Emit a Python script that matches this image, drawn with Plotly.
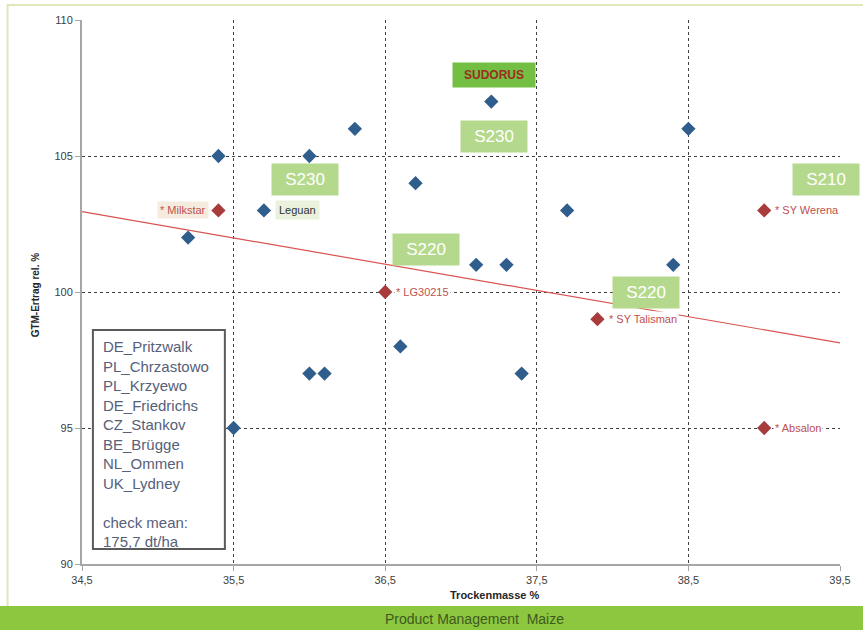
import numpy as np
import plotly.graph_objects as go

# ---- data ----
hybrid_x = [35.4, 35.2, 35.7, 36.0, 36.3, 36.7, 37.2, 37.1, 37.3, 37.7, 38.4, 38.5,
            36.6, 36.0, 36.1, 37.4, 35.5]
hybrid_y = [105, 102, 103, 105, 106, 104, 107, 101, 101, 103, 101, 106,
            98, 97, 97, 97, 95]

check_names = ["* Milkstar", "* LG30215", "* SY Talisman", "* SY Werena", "* Absalon"]
check_x = [35.4, 36.5, 37.9, 39.0, 39.0]
check_y = [103, 100, 99, 103, 95]

x_ticks = [34.5, 35.5, 36.5, 37.5, 38.5, 39.5]
y_ticks = [90, 95, 100, 105, 110]

locations = ["DE_Pritzwalk", "PL_Chrzastowo", "PL_Krzyewo", "DE_Friedrichs",
             "CZ_Stankov", "BE_Brügge", "NL_Ommen", "UK_Lydney"]
check_mean = "check mean:<br>175,7 dt/ha"

# ---- trendline (linear fit of checks) ----
slope, icpt = np.polyfit(check_x, check_y, 1)
trend_x = [x_ticks[0], x_ticks[-1]]
trend_y = [slope * v + icpt for v in trend_x]

W, H = 863, 630
L, R, T, B = 82, 17, 20, 66
pw, ph = W - L - R, H - T - B

def px(xp):
    return (xp - L) / pw

def py(yp):
    return (H - B - yp) / ph

NARROW = "Liberation Sans Narrow, Arial Narrow, sans-serif"
SANS = "Liberation Sans, Arial, sans-serif"

fig = go.Figure()
fig.add_trace(go.Scatter(x=trend_x, y=trend_y, mode="lines",
                         line=dict(color="#d9534f", width=1.2), hoverinfo="skip"))
fig.add_trace(go.Scatter(x=hybrid_x, y=hybrid_y, mode="markers",
                         marker=dict(symbol="diamond", size=11, color="#2f5d8c")))
fig.add_trace(go.Scatter(x=check_x, y=check_y, mode="markers",
                         marker=dict(symbol="diamond", size=11, color="#a83c3c")))

ann = []
# green maturity boxes
for txt, xx, yy in [("S230", 37.22, 105.7), ("S230", 35.97, 104.12),
                    ("S220", 36.77, 101.58), ("S220", 38.22, 100.0),
                    ("S210", 39.41, 104.12)]:
    ann.append(dict(x=xx, y=yy, xref="x", yref="y", text=txt, showarrow=False,
                    font=dict(family=SANS, size=17, color="white"),
                    bgcolor="#b5d98c", width=62, height=27, borderpad=2))
ann.append(dict(x=37.216, y=107.98, xref="x", yref="y", text="<b>SUDORUS</b>",
                showarrow=False, font=dict(family=SANS, size=12, color="#9b2d1f"),
                bgcolor="#72bf44", width=78, height=20, borderpad=2))
ann.append(dict(x=35.77, y=103.0, xref="x", yref="y", text="Leguan", showarrow=False,
                xanchor="left", font=dict(family=SANS, size=11, color="#333333"),
                bgcolor="#eaf1dc", borderpad=3))
# check labels
for name, xx, yy in zip(check_names, check_x, check_y):
    if name == "* Milkstar":
        ann.append(dict(x=xx - 0.06, y=yy, xref="x", yref="y", text=name, showarrow=False,
                        xanchor="right", font=dict(family=SANS, size=11, color="#c0504d"),
                        bgcolor="#f5ebdf", borderpad=2))
    else:
        ann.append(dict(x=xx + 0.06, y=yy, xref="x", yref="y", text=name, showarrow=False,
                        xanchor="left", font=dict(family=SANS, size=11, color="#c0504d"),
                        bgcolor="white", borderpad=1))
# legend-like text box
ann.append(dict(x=px(101), y=py(336), xref="paper", yref="paper", xanchor="left",
                yanchor="top", align="left", showarrow=False,
                text="<br>".join(locations) + "<br><br>" + check_mean,
                font=dict(family=NARROW, size=15, color="#56607a")))
# axis titles
ann.append(dict(x=px(498), y=py(595), xref="paper", yref="paper", showarrow=False,
                xanchor="center", yanchor="middle",
                text="<b>Trockenmasse %</b>", font=dict(family=NARROW, size=11, color="#262626")))
ann.append(dict(x=px(35), y=py(295), xref="paper", yref="paper", showarrow=False,
                xanchor="center", yanchor="middle",
                textangle=-90, text="<b>GTM-Ertrag rel. %</b>",
                font=dict(family=NARROW, size=10, color="#262626")))
# footer text
ann.append(dict(x=px(478), y=py(619), xref="paper", yref="paper", showarrow=False,
                xanchor="center", yanchor="middle",
                text="Product Management  Maize",
                font=dict(family=NARROW, size=14, color="#3d5a1e")))

shapes = [
    # outer light-green frame
    dict(type="rect", xref="paper", yref="paper", x0=px(7), x1=px(880), y0=py(607), y1=py(5),
         line=dict(color="#dfe8b8", width=2), fillcolor="rgba(0,0,0,0)", layer="below"),
    # footer bar
    dict(type="rect", xref="paper", yref="paper", x0=px(-5), x1=px(870), y0=py(640), y1=py(606),
         line=dict(width=0), fillcolor="#8dc63f", layer="above"),
    # legend box border
    dict(type="rect", xref="paper", yref="paper", x0=px(93), x1=px(226), y0=py(549), y1=py(330),
         line=dict(color="#5a5a5a", width=2), fillcolor="white", layer="above"),
]

fig.update_layout(
    width=W, height=H, autosize=False,
    margin=dict(l=L, r=R, t=T, b=B),
    paper_bgcolor="white", plot_bgcolor="white",
    showlegend=False, separators=",.",
    annotations=ann, shapes=shapes,
    xaxis=dict(range=[x_ticks[0], x_ticks[-1]], tickvals=x_ticks, tickformat=".1f",
               showgrid=True, gridcolor="#404040", griddash="dot", gridwidth=1,
               showline=True, linecolor="#a6a6a6", linewidth=2,
               ticks="outside", ticklen=5, tickcolor="#a6a6a6",
               tickfont=dict(family=NARROW, size=11, color="#404040"),
               zeroline=False, fixedrange=True),
    yaxis=dict(range=[y_ticks[0], y_ticks[-1]], tickvals=y_ticks,
               showgrid=True, gridcolor="#404040", griddash="dot", gridwidth=1,
               showline=True, linecolor="#a6a6a6", linewidth=2,
               ticks="outside", ticklen=5, tickcolor="#a6a6a6",
               tickfont=dict(family=SANS, size=11, color="#404040"),
               zeroline=False, fixedrange=True),
)

fig.write_html("out.html", config={"displayModeBar": False},
               post_script="document.body.style.margin='0px';document.body.style.overflow='hidden';")
